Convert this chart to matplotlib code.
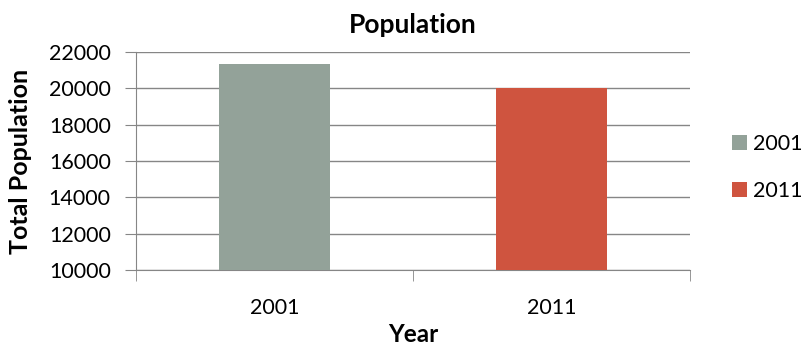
import numpy as np
import matplotlib.pyplot as plt

plt.rcParams['font.family'] = ['Lato', 'DejaVu Sans']

years = ['2001', '2011']
population = [21350, 20030]
colors = ['#93A299', '#CF543F']
y_ticks = [10000, 12000, 14000, 16000, 18000, 20000, 22000]

fig = plt.figure(figsize=(8.08, 3.45), dpi=100)
ax = fig.add_axes([0.168, 0.217, 0.686, 0.632])

x = np.arange(len(years))
bars = ax.bar(x, population, width=0.4, color=colors, zorder=3)
for b, lab in zip(bars, years):
    b.set_label(lab)

ax.set_ylim(10000, 22000)
ax.set_xlim(-0.5, 1.5)
ax.set_yticks(y_ticks)
ax.set_yticklabels([str(v) for v in y_ticks], fontsize=15.5)
ax.set_xticks(x)
ax.set_xticklabels(years, fontsize=15.5)
ax.set_xticks([-0.5, 0.5, 1.5], minor=True)
ax.tick_params(axis='x', which='major', length=0, pad=20)
ax.tick_params(axis='x', which='minor', length=8, color='#868686', direction='out')
ax.tick_params(axis='y', length=8, color='#868686', direction='out', pad=10)
ax.grid(axis='y', color='#868686', linewidth=1, zorder=0)

for s in ['top', 'right']:
    ax.spines[s].set_visible(False)
for s in ['left', 'bottom']:
    ax.spines[s].set_color('#868686')

ax.set_title('Population', fontsize=19, fontweight='bold', pad=14)
ax.set_xlabel('Year', fontsize=17.5, fontweight='bold', labelpad=4)
ax.set_ylabel('Total Population', fontsize=18, fontweight='bold', labelpad=12)

ax.legend(handles=list(bars), loc='center left', bbox_to_anchor=(1.04, 0.47),
          frameon=False, fontsize=15.5, handlelength=0.7, handleheight=0.7,
          handletextpad=0.3, labelspacing=1.25)

fig.savefig('out.png', dpi=100)
